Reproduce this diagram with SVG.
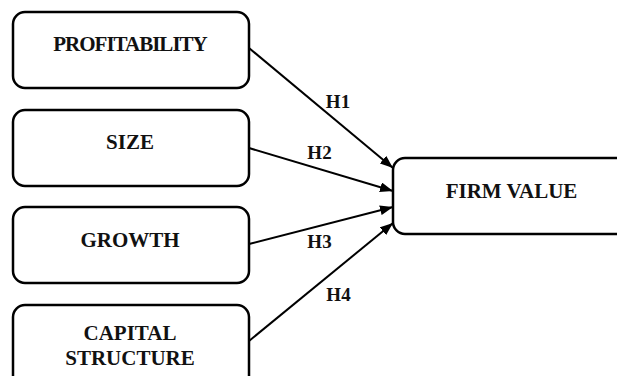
<svg xmlns="http://www.w3.org/2000/svg" width="617" height="376" viewBox="0 0 617 376">
<defs>
<style>
.box{fill:#fff;stroke:#000;stroke-width:2.5}
.lbl{font-family:"Liberation Serif","Times New Roman",serif;font-weight:bold;font-size:21px;fill:#111;text-anchor:middle}
.h{font-family:"Liberation Serif","Times New Roman",serif;font-weight:bold;font-size:19px;fill:#111;text-anchor:middle}
.ln{stroke:#000;stroke-width:2;fill:none}
</style>
<marker id="arr" markerUnits="userSpaceOnUse" markerWidth="14" markerHeight="10" refX="13" refY="5" orient="auto">
<path d="M0,0 L13,5 L0,10 Z" fill="#000"/>
</marker>
</defs>
<rect width="617" height="376" fill="#fff"/>
<g id="connectors">
<line class="ln" x1="249" y1="48" x2="393" y2="168" marker-end="url(#arr)"/>
<line class="ln" x1="249" y1="148" x2="393" y2="191" marker-end="url(#arr)"/>
<line class="ln" x1="249" y1="244" x2="393" y2="207" marker-end="url(#arr)"/>
<line class="ln" x1="249" y1="341" x2="393" y2="223" marker-end="url(#arr)"/>
<text class="h" x="338" y="108">H1</text>
<text class="h" x="319.5" y="159">H2</text>
<text class="h" x="319.5" y="248">H3</text>
<text class="h" x="338.5" y="301">H4</text>
</g>
<g id="profitability">
<rect class="box" x="13" y="12" width="236" height="76" rx="12"/>
<text class="lbl" x="130" y="51" letter-spacing="-1">PROFITABILITY</text>
</g>
<g id="size">
<rect class="box" x="13" y="110" width="236" height="76" rx="12"/>
<text class="lbl" x="130" y="149">SIZE</text>
</g>
<g id="growth">
<rect class="box" x="13" y="207" width="236" height="76" rx="12"/>
<text class="lbl" x="130" y="247">GROWTH</text>
</g>
<g id="capital-structure">
<rect class="box" x="13" y="305" width="236" height="90" rx="12"/>
<text class="lbl" x="130" y="340">CAPITAL</text>
<text class="lbl" x="130" y="365">STRUCTURE</text>
</g>
<g id="firm-value">
<rect class="box" x="393" y="158" width="250" height="76" rx="12"/>
<text class="lbl" x="511.5" y="198">FIRM VALUE</text>
</g>
</svg>
